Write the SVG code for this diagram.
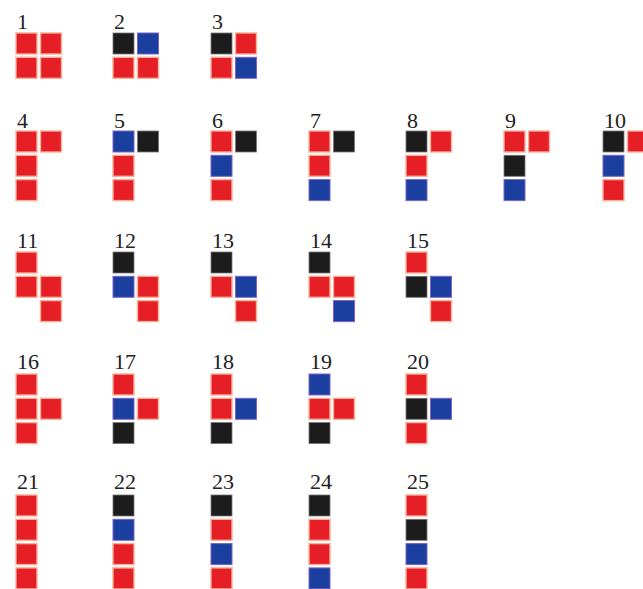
<svg xmlns="http://www.w3.org/2000/svg" width="643" height="589" viewBox="0 0 643 589">
<style>
text{font-family:"Liberation Serif","Times New Roman",serif;font-size:22px;fill:#222}
rect{width:21px;height:21px}
.r{fill:#e61e25;stroke:#f7b09a;stroke-width:1.4}
.b{fill:#1b3f9e;stroke:#7a62c8;stroke-width:1}
.k{fill:#1c1c1c;stroke:#777;stroke-width:0.8}
</style>
<rect width="643" height="589" fill="#fff" style="width:643px;height:589px"/>
<!-- Row 1 -->
<g id="s1" transform="translate(16,33)"><text x="1" y="-4">1</text><rect class="r" x="0" y="0"/><rect class="r" x="24.5" y="0"/><rect class="r" x="0" y="24.3"/><rect class="r" x="24.5" y="24.3"/></g>
<g id="s2" transform="translate(113,33)"><text x="1" y="-4">2</text><rect class="k" x="0" y="0"/><rect class="b" x="24.5" y="0"/><rect class="r" x="0" y="24.3"/><rect class="r" x="24.5" y="24.3"/></g>
<g id="s3" transform="translate(211,33)"><text x="1" y="-4">3</text><rect class="k" x="0" y="0"/><rect class="r" x="24.5" y="0"/><rect class="r" x="0" y="24.3"/><rect class="b" x="24.5" y="24.3"/></g>
<!-- Row 2 -->
<g id="s4" transform="translate(16,131)"><text x="1" y="-3">4</text><rect class="r" x="0" y="0"/><rect class="r" x="24.5" y="0"/><rect class="r" x="0" y="24.3"/><rect class="r" x="0" y="48.6"/></g>
<g id="s5" transform="translate(113,131)"><text x="1" y="-3">5</text><rect class="b" x="0" y="0"/><rect class="k" x="24.5" y="0"/><rect class="r" x="0" y="24.3"/><rect class="r" x="0" y="48.6"/></g>
<g id="s6" transform="translate(211,131)"><text x="1" y="-3">6</text><rect class="r" x="0" y="0"/><rect class="k" x="24.5" y="0"/><rect class="b" x="0" y="24.3"/><rect class="r" x="0" y="48.6"/></g>
<g id="s7" transform="translate(309,131)"><text x="1" y="-3">7</text><rect class="r" x="0" y="0"/><rect class="k" x="24.5" y="0"/><rect class="r" x="0" y="24.3"/><rect class="b" x="0" y="48.6"/></g>
<g id="s8" transform="translate(406,131)"><text x="1" y="-3">8</text><rect class="k" x="0" y="0"/><rect class="r" x="24.5" y="0"/><rect class="r" x="0" y="24.3"/><rect class="b" x="0" y="48.6"/></g>
<g id="s9" transform="translate(504,131)"><text x="1" y="-3">9</text><rect class="r" x="0" y="0"/><rect class="r" x="24.5" y="0"/><rect class="k" x="0" y="24.3"/><rect class="b" x="0" y="48.6"/></g>
<g id="s10" transform="translate(603,131)"><text x="1" y="-3">10</text><rect class="k" x="0" y="0"/><rect class="r" x="24.5" y="0"/><rect class="b" x="0" y="24.3"/><rect class="r" x="0" y="48.6"/></g>
<!-- Row 3 -->
<g id="s11" transform="translate(16,252)"><text x="1" y="-4">11</text><rect class="r" x="0" y="0"/><rect class="r" x="0" y="24.3"/><rect class="r" x="24.5" y="24.3"/><rect class="r" x="24.5" y="48.6"/></g>
<g id="s12" transform="translate(113,252)"><text x="1" y="-4">12</text><rect class="k" x="0" y="0"/><rect class="b" x="0" y="24.3"/><rect class="r" x="24.5" y="24.3"/><rect class="r" x="24.5" y="48.6"/></g>
<g id="s13" transform="translate(211,252)"><text x="1" y="-4">13</text><rect class="k" x="0" y="0"/><rect class="r" x="0" y="24.3"/><rect class="b" x="24.5" y="24.3"/><rect class="r" x="24.5" y="48.6"/></g>
<g id="s14" transform="translate(309,252)"><text x="1" y="-4">14</text><rect class="k" x="0" y="0"/><rect class="r" x="0" y="24.3"/><rect class="r" x="24.5" y="24.3"/><rect class="b" x="24.5" y="48.6"/></g>
<g id="s15" transform="translate(406,252)"><text x="1" y="-4">15</text><rect class="r" x="0" y="0"/><rect class="k" x="0" y="24.3"/><rect class="b" x="24.5" y="24.3"/><rect class="r" x="24.5" y="48.6"/></g>
<!-- Row 4 -->
<g id="s16" transform="translate(16,374)"><text x="1" y="-5">16</text><rect class="r" x="0" y="0"/><rect class="r" x="0" y="24.3"/><rect class="r" x="24.5" y="24.3"/><rect class="r" x="0" y="48.6"/></g>
<g id="s17" transform="translate(113,374)"><text x="1" y="-5">17</text><rect class="r" x="0" y="0"/><rect class="b" x="0" y="24.3"/><rect class="r" x="24.5" y="24.3"/><rect class="k" x="0" y="48.6"/></g>
<g id="s18" transform="translate(211,374)"><text x="1" y="-5">18</text><rect class="r" x="0" y="0"/><rect class="r" x="0" y="24.3"/><rect class="b" x="24.5" y="24.3"/><rect class="k" x="0" y="48.6"/></g>
<g id="s19" transform="translate(309,374)"><text x="1" y="-5">19</text><rect class="b" x="0" y="0"/><rect class="r" x="0" y="24.3"/><rect class="r" x="24.5" y="24.3"/><rect class="k" x="0" y="48.6"/></g>
<g id="s20" transform="translate(406,374)"><text x="1" y="-5">20</text><rect class="r" x="0" y="0"/><rect class="k" x="0" y="24.3"/><rect class="b" x="24.5" y="24.3"/><rect class="r" x="0" y="48.6"/></g>
<!-- Row 5 -->
<g id="s21" transform="translate(16,495)"><text x="1" y="-6">21</text><rect class="r" x="0" y="0"/><rect class="r" x="0" y="24.3"/><rect class="r" x="0" y="48.6"/><rect class="r" x="0" y="72.9"/></g>
<g id="s22" transform="translate(113,495)"><text x="1" y="-6">22</text><rect class="k" x="0" y="0"/><rect class="b" x="0" y="24.3"/><rect class="r" x="0" y="48.6"/><rect class="r" x="0" y="72.9"/></g>
<g id="s23" transform="translate(211,495)"><text x="1" y="-6">23</text><rect class="k" x="0" y="0"/><rect class="r" x="0" y="24.3"/><rect class="b" x="0" y="48.6"/><rect class="r" x="0" y="72.9"/></g>
<g id="s24" transform="translate(309,495)"><text x="1" y="-6">24</text><rect class="k" x="0" y="0"/><rect class="r" x="0" y="24.3"/><rect class="r" x="0" y="48.6"/><rect class="b" x="0" y="72.9"/></g>
<g id="s25" transform="translate(406,495)"><text x="1" y="-6">25</text><rect class="r" x="0" y="0"/><rect class="k" x="0" y="24.3"/><rect class="b" x="0" y="48.6"/><rect class="r" x="0" y="72.9"/></g>
<g id="connectors"/>
</svg>
